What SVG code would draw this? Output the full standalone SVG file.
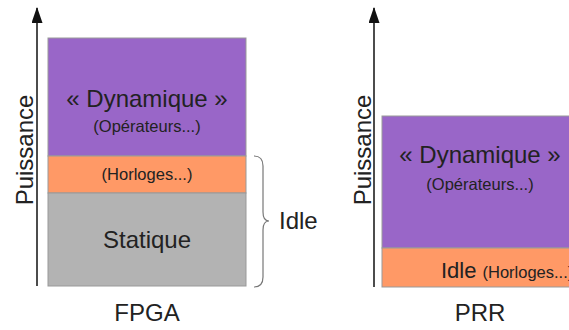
<svg xmlns="http://www.w3.org/2000/svg" width="569" height="330" viewBox="0 0 569 330">
<style>
text{font-family:"Liberation Sans",Arial,sans-serif;fill:#222}
.big{font-size:24px}
.mid{font-size:22px}
.small{font-size:16.5px}
.box{stroke:#999;stroke-width:1}
.axis{stroke:#111;stroke-width:1.5;fill:none}
</style>
<defs>
<marker id="arr" viewBox="0 0 16 11" refX="15" refY="5.5" markerWidth="16" markerHeight="11" markerUnits="userSpaceOnUse" orient="auto">
<path d="M0,0 L16,5.5 L0,11 z" fill="#111"/>
</marker>
</defs>
<rect width="569" height="330" fill="#fff"/>
<g id="connectors">
<line class="axis" x1="37" y1="286" x2="37" y2="8" marker-end="url(#arr)"/>
<line class="axis" x1="374" y1="287" x2="374" y2="8" marker-end="url(#arr)"/>
</g>
<g id="fpga-dyn">
<rect class="box" x="48" y="38" width="198" height="118" fill="#9966c8"/>
<text class="big" x="147" y="107" text-anchor="middle">« Dynamique »</text>
<text class="small" x="147" y="132" text-anchor="middle">(Opérateurs...)</text>
</g>
<g id="fpga-horloges">
<rect class="box" x="48" y="156" width="198" height="37" fill="#ff9966"/>
<text class="small" x="147" y="180" text-anchor="middle">(Horloges...)</text>
</g>
<g id="fpga-statique">
<rect class="box" x="48" y="193" width="198" height="93" fill="#b3b3b3"/>
<text class="big" x="147" y="248" text-anchor="middle">Statique</text>
</g>
<g id="brace">
<path d="M254,156 Q263,156 263,166 L263,212 Q263,221 269,221 Q263,221 263,230 L263,277 Q263,287 254,287" fill="none" stroke="#777" stroke-width="1.2"/>
<text class="big" x="279" y="229">Idle</text>
</g>
<g id="fpga-label">
<text class="big" x="147" y="321" text-anchor="middle">FPGA</text>
<text class="big" transform="translate(33,150) rotate(-90)" text-anchor="middle">Puissance</text>
</g>
<g id="prr-dyn">
<rect class="box" x="382" y="116" width="200" height="132" fill="#9966c8"/>
<text class="big" x="480" y="163" text-anchor="middle">« Dynamique »</text>
<text class="small" x="480" y="190" text-anchor="middle">(Opérateurs...)</text>
</g>
<g id="prr-idle">
<rect class="box" x="382" y="248" width="200" height="39" fill="#ff9966"/>
<text x="441" y="278"><tspan class="mid">Idle</tspan><tspan class="small" dx="6">(Horloges...)</tspan></text>
</g>
<g id="prr-label">
<text class="big" x="480" y="321" text-anchor="middle">PRR</text>
<text class="big" transform="translate(371,150) rotate(-90)" text-anchor="middle">Puissance</text>
</g>
</svg>
